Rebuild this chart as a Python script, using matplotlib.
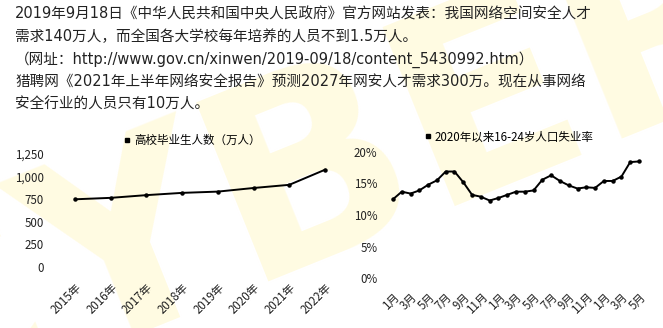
import matplotlib
matplotlib.use("Agg")
import matplotlib.pyplot as plt
from matplotlib.lines import Line2D
from matplotlib.ticker import FuncFormatter

plt.rcParams['font.family'] = ['Noto Sans CJK SC', 'DejaVu Sans']

# 高校毕业生人数（万人）
years = ['2015年', '2016年', '2017年', '2018年', '2019年', '2020年', '2021年', '2022年']
grads = [749, 765, 795, 820, 834, 874, 909, 1076]

# 2020年以来16-24岁人口失业率 (2020-01 .. 2022-05)
month_labels = ['1月', '3月', '5月', '7月', '9月', '11月', '1月', '3月', '5月',
                '7月', '9月', '11月', '1月', '3月', '5月']
unemp = [12.5, 13.7, 13.4, 13.9, 14.8, 15.5, 16.9, 16.9, 15.2, 13.2,
         12.9, 12.3, 12.7, 13.2, 13.7, 13.7, 13.9, 15.6, 16.3, 15.4,
         14.7, 14.2, 14.4, 14.3, 15.4, 15.4, 16.1, 18.4, 18.5]

lines = [
    '2019年9月18日《中华人民共和国中央人民政府》官方网站发表：我国网络空间安全人才',
    '需求140万人，而全国各大学校每年培养的人员不到1.5万人。',
    '（网址：http://www.gov.cn/xinwen/2019-09/18/content_5430992.htm）',
    '猎聘网《2021年上半年网络安全报告》预测2027年网安人才需求300万。现在从事网络',
    '安全行业的人员只有10万人。',
]

W, H = 663, 328
fig = plt.figure(figsize=(W / 100, H / 100), dpi=100)

# faint watermark in a background axes
bg = fig.add_axes([0, 0, 1, 1], zorder=-1)
bg.axis('off')
bg.text(0.47, 0.45, 'CYBER', fontsize=190, rotation=22, color='#fffbe2',
        fontweight='bold', ha='center', va='center', family='DejaVu Sans', clip_on=True)

for i, t in enumerate(lines):
    fig.text(15 / W, 1 - (14 + i * 22.6) / H, t, fontsize=10.5, color='#222222',
             ha='left', va='center', family=['DejaVu Sans', 'Noto Sans CJK SC'])

def px_axes(left, bottom, right, top):
    ax = fig.add_axes([left / W, 1 - bottom / H, (right - left) / W, (bottom - top) / H], zorder=1)
    ax.patch.set_alpha(0)
    for s in ax.spines.values():
        s.set_visible(False)
    ax.tick_params(length=0, labelsize=8.3, colors='#222222')
    return ax

# left chart
ax1 = px_axes(60.7, 267, 339.3, 154)
x1 = list(range(len(years)))
ax1.plot(x1, grads, color='black', lw=1.4, marker='o', markersize=2.2)
ax1.set_xlim(-0.4, 7.4)
ax1.set_ylim(0, 1250)
ax1.set_yticks([0, 250, 500, 750, 1000, 1250])
ax1.yaxis.set_major_formatter(FuncFormatter(lambda v, p: f'{int(v):,}'))
ax1.tick_params(axis='y', pad=12)
ax1.set_xticks(x1)
ax1.set_xticklabels(years, rotation=45, ha='right', rotation_mode='anchor')
ax1.tick_params(axis='x', pad=10)
ax1.legend(handles=[Line2D([], [], marker='s', color='black', ls='none', markersize=3)],
           labels=['高校毕业生人数（万人）'], loc='center', bbox_to_anchor=(0.47, 1.12),
           frameon=False, fontsize=8.3, handletextpad=0.2, handlelength=0.8)

# right chart
ax2 = px_axes(388.6, 278, 643.4, 152)
x2 = list(range(len(unemp)))
ax2.plot(x2, [v / 100 for v in unemp], color='black', lw=1.4, marker='o', markersize=2.2)
ax2.set_xlim(-0.5, 28.5)
ax2.set_ylim(0, 0.2)
ax2.set_yticks([0, 0.05, 0.10, 0.15, 0.20])
ax2.yaxis.set_major_formatter(FuncFormatter(lambda v, p: f'{v * 100:.0f}%'))
ax2.tick_params(axis='y', pad=8)
ax2.set_xticks(x2[::2])
ax2.set_xticklabels(month_labels, rotation=45, ha='right', rotation_mode='anchor')
ax2.tick_params(axis='x', pad=9)
ax2.legend(handles=[Line2D([], [], marker='s', color='black', ls='none', markersize=3)],
           labels=['2020年以来16-24岁人口失业率'], loc='center', bbox_to_anchor=(0.47, 1.12),
           frameon=False, fontsize=8.3, handletextpad=0.2, handlelength=0.8)

fig.savefig('out.png', dpi=100)
